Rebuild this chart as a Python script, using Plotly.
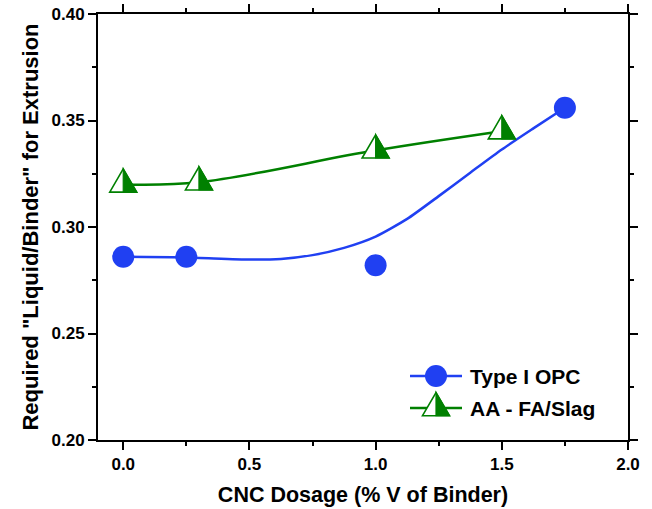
import plotly.graph_objects as go

# CNC dosage (% V of binder) vs required liquid/binder ratio for extrusion
cnc_opc = [0.0, 0.25, 1.0, 1.75]
lb_opc = [0.286, 0.286, 0.282, 0.356]

cnc_aa = [0.0, 0.3, 1.0, 1.5]
lb_aa = [0.320, 0.321, 0.336, 0.345]

# trend curve drawn for the Type I OPC series
opc_trend_x = [0.0, 0.25, 0.5, 0.625, 0.75, 0.875, 1.0, 1.125, 1.25, 1.375, 1.5, 1.625, 1.75]
opc_trend_y = [0.2860, 0.2857, 0.2847, 0.2850, 0.2868, 0.2902, 0.2955, 0.3038, 0.3145,
               0.3255, 0.3364, 0.3463, 0.3560]

x_ticks = [0.0, 0.5, 1.0, 1.5, 2.0]
y_ticks = [0.20, 0.25, 0.30, 0.35, 0.40]

series_names = ["Type I OPC", "AA - FA/Slag"]

BLUE = "#2040f2"
GREEN = "#008000"
FONT = "Liberation Sans"

W, H = 652, 509
L, R, T, B = 98, 24, 14, 69
PW, PH = W - L - R, H - T - B


def paper_x(px):
    return (px - L) / PW


def paper_y(py):
    return (T + PH - py) / PH


# half-filled triangle, offsets in pixels around the anchor (y up)
TRI_FULL = "M -13.5,-7.7 L 13.5,-7.7 L 0,15.5 Z"
TRI_HALF = "M 0,-7.7 L 13.5,-7.7 L 0,15.5 Z"

fig = go.Figure()

fig.add_trace(go.Scatter(
    x=opc_trend_x, y=opc_trend_y, mode="lines",
    line=dict(color=BLUE, width=2.5, shape="spline", smoothing=0.6),
    showlegend=False, hoverinfo="skip"))

fig.add_trace(go.Scatter(
    x=cnc_aa, y=lb_aa, mode="lines",
    line=dict(color=GREEN, width=2.5, shape="spline"),
    name=series_names[1], showlegend=False))

fig.add_trace(go.Scatter(
    x=cnc_opc, y=lb_opc, mode="markers",
    marker=dict(color=BLUE, size=22, line=dict(width=0)),
    name=series_names[0], showlegend=False))

shapes = []


def triangle(xa, ya, xref, yref):
    common = dict(type="path", xref=xref, yref=yref, xsizemode="pixel",
                  ysizemode="pixel", xanchor=xa, yanchor=ya, layer="above")
    return [
        dict(path=TRI_FULL, fillcolor="white", line=dict(color=GREEN, width=1.6), **common),
        dict(path=TRI_HALF, fillcolor=GREEN, line=dict(color=GREEN, width=1.2), **common),
    ]


for xv, yv in zip(cnc_aa, lb_aa):
    shapes += triangle(xv, yv, "x", "y")

# legend drawn by hand: line sample, symbol and label
leg_x0, leg_x1, leg_text_x = 410, 462, 468
leg_rows = [376, 408]
for i, (name, col) in enumerate(zip(series_names, [BLUE, GREEN])):
    yy = paper_y(leg_rows[i])
    shapes.append(dict(type="line", xref="paper", yref="paper",
                       x0=paper_x(leg_x0), x1=paper_x(leg_x1), y0=yy, y1=yy,
                       line=dict(color=col, width=2.5), layer="above"))
    xm = paper_x((leg_x0 + leg_x1) / 2)
    if i == 0:
        shapes.append(dict(type="circle", xref="paper", yref="paper",
                           xsizemode="pixel", ysizemode="pixel",
                           xanchor=xm, yanchor=yy, x0=-11, x1=11, y0=-11, y1=11,
                           fillcolor=col, line=dict(width=0), layer="above"))
    else:
        shapes += triangle(xm, yy, "paper", "paper")

annotations = []
for i, name in enumerate(series_names):
    annotations.append(dict(
        text=f"<b>{name}</b>", xref="paper", yref="paper",
        x=paper_x(leg_text_x), y=paper_y(leg_rows[i]),
        xanchor="left", yanchor="middle", showarrow=False,
        font=dict(family=FONT, size=21, color="black")))

axis_common = dict(
    showline=True, linecolor="black", linewidth=2, mirror="allticks",
    ticks="outside", ticklen=8, tickwidth=2, tickcolor="black",
    showgrid=False, zeroline=False, automargin=False,
    tickfont=dict(family=FONT, size=17, color="black", weight="bold"),
)

fig.update_layout(
    template="none",
    width=W, height=H,
    margin=dict(l=L, r=R, t=T, b=B),
    paper_bgcolor="white", plot_bgcolor="white",
    shapes=shapes, annotations=annotations,
    showlegend=False,
    xaxis=dict(
        range=[-0.1, 2.0], tickvals=x_ticks, tickformat=".1f",
        minor=dict(dtick=0.25, tick0=0, ticks="outside", ticklen=4, tickwidth=2, tickcolor="black"),
        title=dict(text="<b>CNC Dosage (% V of Binder)</b>",
                   font=dict(family=FONT, size=21.5, color="black"), standoff=14),
        **axis_common),
    yaxis=dict(
        range=[0.2, 0.4], tickvals=y_ticks, tickformat=".2f",
        minor=dict(dtick=0.025, tick0=0.2, ticks="outside", ticklen=4, tickwidth=2, tickcolor="black"),
        title=dict(text="<b>Required \"Liquid/Binder\" for Extrusion</b>",
                   font=dict(family=FONT, size=22, color="black"), standoff=7),
        **axis_common),
)

fig.write_html("out.html")
